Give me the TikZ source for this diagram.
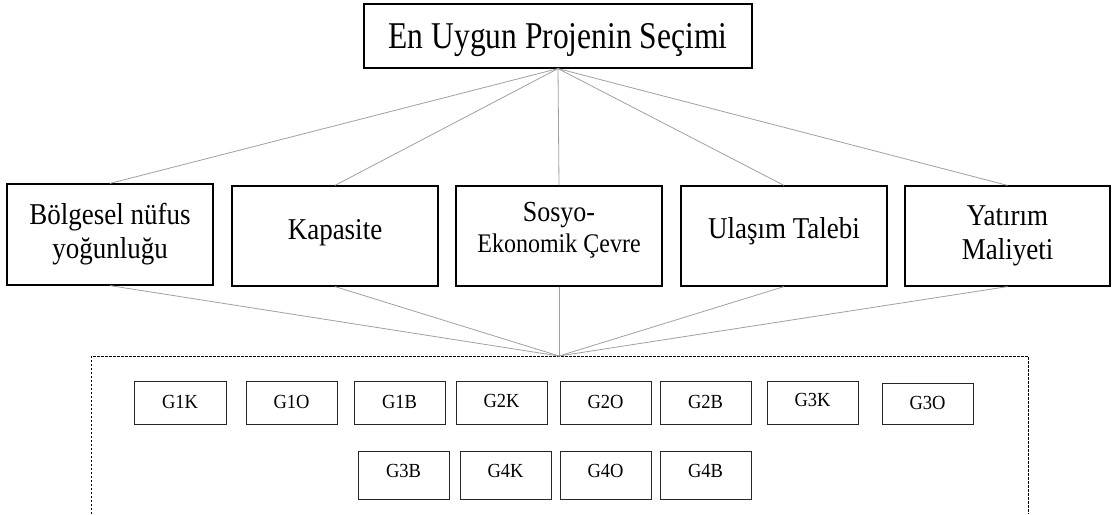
\documentclass[tikz,border=0pt]{standalone}
\usepackage{fontspec}
\usepackage{graphicx}
\setmainfont{Liberation Serif}
\definecolor{connline}{RGB}{160,160,160}
% #1: vertical lift of the ink, #2: vertical stretch, #3: lines of text
\newcommand{\stretchtext}[3]{\raisebox{#1}[\height][\depth]{\scalebox{1}[#2]{\begin{tabular}{@{}c@{}}#3\end{tabular}}}}
\tikzset{
  goalbox/.style={draw=black, line width=1.2pt, minimum width=388pt, minimum height=64pt,
    inner sep=0pt, font=\fontsize{31.5}{36}\selectfont},
  critbox/.style={draw=black, line width=1.2pt, minimum width=206pt, minimum height=100pt,
    inner sep=0pt, align=center, font=\fontsize{27}{30.5}\selectfont},
  altbox/.style={draw=black!85, line width=1pt, minimum width=91pt, inner sep=0pt,
    font=\fontsize{18.5}{20}\selectfont},
  link/.style={draw=connline, line width=0.8pt},
  frame/.style={draw=black, line width=1pt, dash pattern=on 2.5pt off 1.5pt}
}
\begin{document}
\begin{tikzpicture}[x=1pt, y=-1pt]
  \useasboundingbox (0,0) rectangle (1113,514);

  % goal
  \node[goalbox] (goal) at (558,36) {\stretchtext{-3.5pt}{1.2}{En Uygun Projenin Seçimi}};

  % criteria
  \node[critbox, minimum height=101pt] (c1) at (110,234.5)
       {\stretchtext{0pt}{1.12}{Bölgesel nüfus\\yoğunluğu}};
  \node[critbox] (c2) at (335,236) {\stretchtext{3pt}{1.12}{Kapasite}};
  \node[critbox, font=\fontsize{26}{27.7}\selectfont] (c3) at (559,236)
       {\stretchtext{5.5pt}{1.12}{Sosyo-\\{\fontsize{24}{27.7}\selectfont Ekonomik Çevre}}};
  \node[critbox] (c4) at (784,236) {\stretchtext{4pt}{1.12}{Ulaşım Talebi}};
  \node[critbox, minimum width=205pt] (c5) at (1007.5,236)
       {\stretchtext{0pt}{1.12}{Yatırım\\Maliyeti}};

  % alternatives frame (open at the bottom)
  \coordinate (hub) at (559,356);
  \coordinate (fl) at (91,356);
  \coordinate (fr) at (1028,356);
  \draw[frame] (91,514) -- (fl) -- (fr) -- (1028,514);

  % goal to criteria
  \foreach \c in {c1,c2,c3,c4,c5}
    \draw[link] (goal.south) -- (\c.north);
  % criteria to alternatives
  \foreach \c in {c1,c2,c3,c4,c5}
    \draw[link] (\c.south) -- (hub);

  % alternatives, first row
  \node[altbox, minimum height=43pt, minimum width=92pt] (g1k) at (180,402.5) {\stretchtext{-1.5pt}{1.08}{G1K}};
  \node[altbox, minimum height=43pt] (g1o) at (291.5,402.5) {\stretchtext{-1.5pt}{1.08}{G1O}};
  \node[altbox, minimum height=43pt] (g1b) at (399.5,402.5) {\stretchtext{-1.5pt}{1.08}{G1B}};
  \node[altbox, minimum height=43pt] (g2k) at (501.5,402.5) {\stretchtext{-0.5pt}{1.08}{G2K}};
  \node[altbox, minimum height=43pt] (g2o) at (605.5,402.5) {\stretchtext{-1.5pt}{1.08}{G2O}};
  \node[altbox, minimum height=43pt] (g2b) at (705.5,402.5) {\stretchtext{-1.5pt}{1.08}{G2B}};
  \node[altbox, minimum height=43pt] (g3k) at (812.5,402.5) {\stretchtext{0pt}{1.08}{G3K}};
  \node[altbox, minimum height=41pt] (g3o) at (927.5,403.5) {\stretchtext{-1.5pt}{1.08}{G3O}};

  % alternatives, second row
  \node[altbox, minimum height=48pt] (g3b) at (403.5,475) {\stretchtext{1.5pt}{1.08}{G3B}};
  \node[altbox, minimum height=48pt] (g4k) at (505.5,475) {\stretchtext{1.5pt}{1.08}{G4K}};
  \node[altbox, minimum height=48pt] (g4o) at (605.5,475) {\stretchtext{1.5pt}{1.08}{G4O}};
  \node[altbox, minimum height=48pt] (g4b) at (705.5,475) {\stretchtext{1.5pt}{1.08}{G4B}};
\end{tikzpicture}
\end{document}
